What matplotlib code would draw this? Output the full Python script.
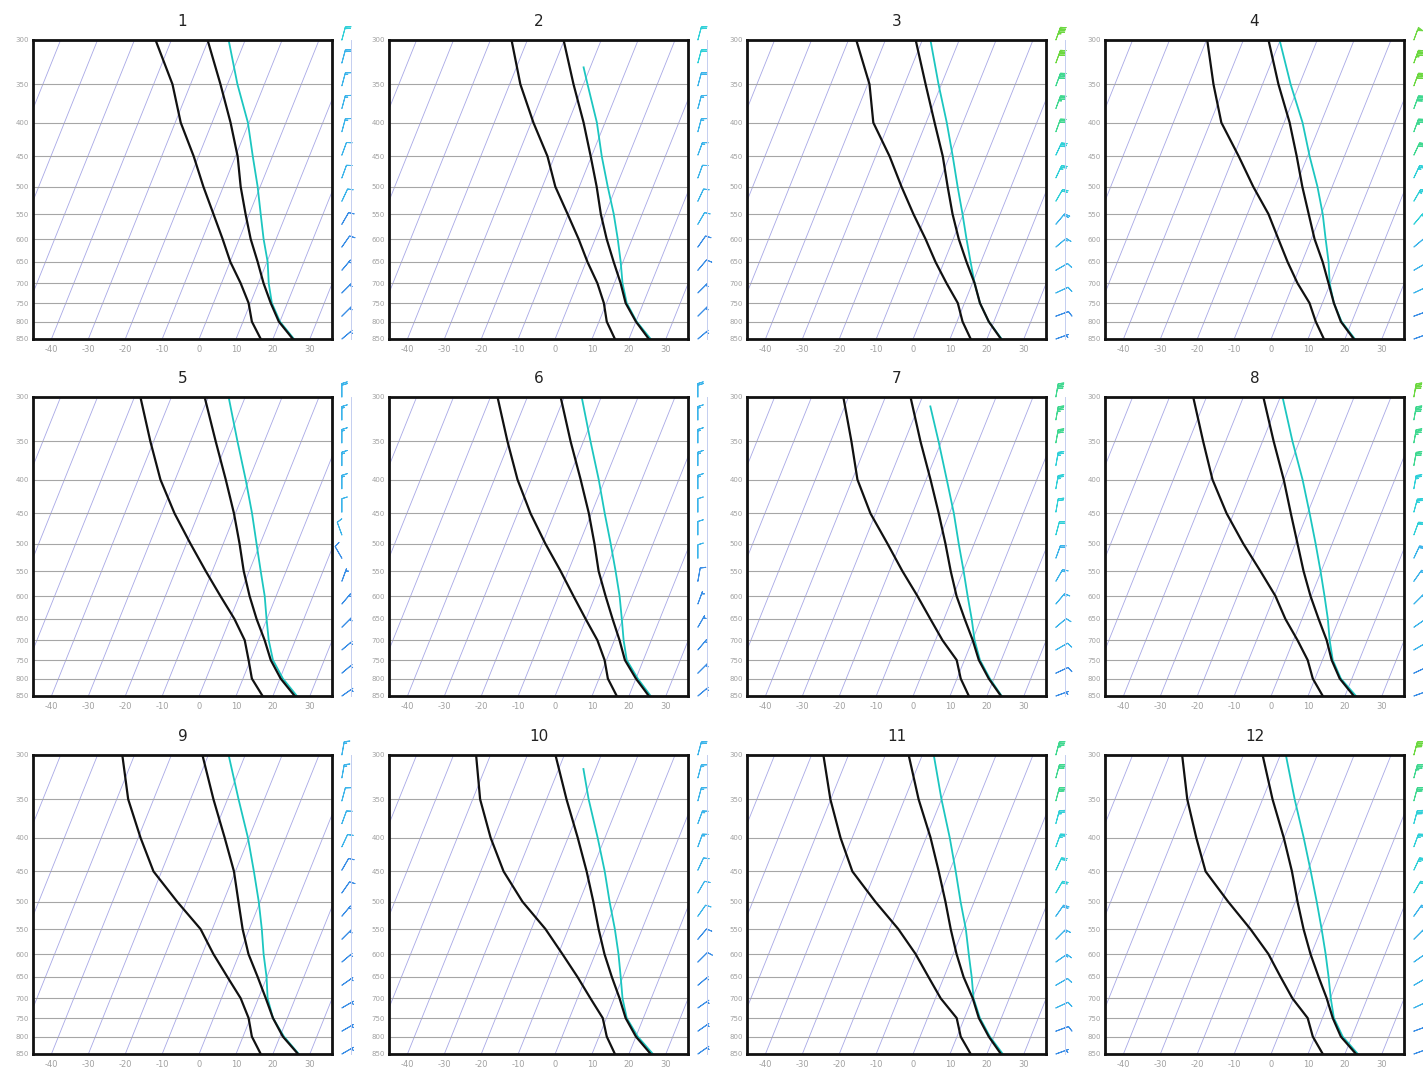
import numpy as np
import matplotlib
matplotlib.use('Agg')
import matplotlib.pyplot as plt
from matplotlib.ticker import NullLocator
from matplotlib.transforms import blended_transform_factory

# pressure levels (hPa) of the soundings
plevs = [300, 350, 400, 450, 500, 550, 600, 650, 700, 750, 800, 850]
titles = [str(i) for i in range(1, 13)]

# environmental temperature (C), one list per panel, top -> bottom
temp = [
    [-30.2, -21.9, -15.0, -9.4, -5.3, -1.0, 3.1, 7.5, 11.4, 15.5, 19.7, 25.4],
    [-30.2, -22.7, -15.8, -10.2, -5.3, -1.2, 3.1, 7.5, 11.7, 15.2, 20.0, 25.4],
    [-31.8, -24.3, -17.7, -11.8, -7.2, -2.9, 1.5, 6.1, 10.6, 14.2, 18.6, 23.8],
    [-33.2, -25.7, -18.5, -12.9, -8.1, -3.4, 0.9, 5.6, 9.5, 13.1, 17.0, 22.4],
    [-31.0, -23.2, -16.3, -10.4, -5.6, -1.5, 2.8, 7.2, 11.7, 15.5, 20.2, 25.9],
    [-31.0, -23.5, -16.6, -10.7, -5.9, -1.8, 2.8, 7.2, 11.4, 15.0, 20.0, 25.4],
    [-33.2, -25.7, -18.8, -12.9, -7.8, -3.4, 0.9, 5.6, 10.1, 13.9, 18.6, 23.8],
    [-34.6, -27.0, -20.1, -14.5, -9.4, -4.8, -0.2, 4.5, 9.0, 12.5, 16.7, 22.4],
    [-31.6, -23.8, -16.6, -10.4, -5.9, -1.8, 2.5, 7.5, 12.0, 16.1, 20.8, 26.8],
    [-32.4, -24.6, -17.4, -11.3, -6.2, -1.8, 2.5, 7.0, 11.4, 15.2, 20.0, 25.9],
    [-33.7, -26.2, -18.8, -12.9, -7.8, -3.4, 0.9, 5.3, 10.1, 13.9, 18.6, 23.8],
    [-34.8, -27.3, -20.1, -14.2, -9.4, -4.8, -0.2, 4.5, 9.0, 12.8, 17.0, 23.0],
]

# dew point (C)
dewp = [
    [-44.3, -34.9, -28.5, -21.3, -15.4, -9.7, -4.5, 0.1, 5.2, 9.5, 12.4, 16.7],
    [-44.3, -37.1, -29.4, -21.9, -16.5, -10.2, -4.5, 0.4, 5.4, 9.3, 12.1, 16.2],
    [-47.9, -39.5, -34.3, -26.2, -19.7, -13.5, -7.5, -2.3, 3.0, 8.2, 11.5, 15.6],
    [-49.8, -43.3, -37.0, -28.6, -21.4, -14.3, -8.9, -3.9, 1.1, 6.5, 10.2, 14.3],
    [-48.4, -40.9, -34.0, -26.5, -18.9, -11.8, -5.1, 1.2, 6.3, 9.5, 12.4, 17.2],
    [-48.1, -40.6, -33.7, -26.5, -19.2, -12.1, -5.9, -0.1, 5.4, 9.5, 12.4, 16.7],
    [-51.4, -44.4, -38.6, -31.4, -23.5, -16.5, -9.7, -3.7, 1.9, 7.9, 11.0, 15.1],
    [-53.6, -46.1, -39.4, -31.9, -24.1, -16.5, -9.7, -4.5, 1.1, 6.0, 9.4, 14.0],
    [-53.3, -46.9, -39.4, -32.2, -22.5, -13.2, -7.0, -0.7, 5.2, 9.5, 12.4, 16.7],
    [-53.9, -48.0, -41.0, -33.8, -25.4, -16.2, -8.9, -2.3, 3.5, 9.0, 12.1, 16.2],
    [-56.8, -50.1, -43.2, -36.3, -26.8, -17.6, -10.2, -4.2, 1.4, 7.9, 11.0, 15.6],
    [-56.6, -50.4, -43.8, -37.6, -28.2, -19.2, -11.6, -5.8, -0.3, 6.0, 9.4, 14.0],
]

# lifted parcel (C); first value is at parcel_top, the rest at plevs[1:]
parcel_top = [300, 330, 300, 300, 300, 300, 310, 300, 300, 315, 300, 300]
parcel = [
    [-24.5, -17.3, -10.3, -5.3, -0.7, 3.1, 6.6, 10.2, 12.8, 15.8, 20.0, 25.7],
    [-21.8, -18.9, -12.2, -7.2, -2.3, 2.3, 6.1, 9.4, 12.2, 15.5, 20.2, 25.9],
    [-27.8, -20.8, -14.4, -9.1, -4.5, -0.2, 3.6, 7.2, 10.6, 14.2, 18.6, 24.0],
    [-30.2, -22.4, -15.0, -9.4, -4.0, 0.4, 3.9, 7.2, 9.8, 13.1, 17.2, 22.7],
    [-24.5, -17.3, -10.9, -5.5, -1.0, 3.1, 6.9, 9.9, 12.8, 16.1, 20.8, 26.5],
    [-25.3, -18.1, -11.7, -6.4, -1.5, 2.8, 6.6, 9.7, 12.5, 15.5, 20.5, 25.9],
    [-26.8, -20.8, -14.4, -8.8, -4.2, 0.1, 3.9, 7.5, 10.6, 14.2, 18.9, 24.0],
    [-29.4, -21.9, -15.0, -9.4, -4.5, -0.2, 3.6, 7.0, 9.8, 12.8, 17.0, 23.0],
    [-24.5, -17.0, -10.3, -5.0, -0.4, 3.4, 6.6, 9.9, 12.5, 16.1, 21.1, 27.0],
    [-23.3, -18.6, -12.0, -6.4, -1.8, 2.6, 6.3, 9.4, 12.2, 15.5, 20.5, 26.5],
    [-26.9, -20.0, -13.6, -8.3, -3.7, 0.7, 4.2, 7.5, 10.3, 14.2, 18.9, 24.3],
    [-28.5, -21.3, -14.7, -9.1, -4.2, 0.1, 3.9, 7.2, 10.1, 13.1, 17.5, 23.5],
]

# wind barbs: levels, speed (kt) and direction (deg) per panel
wind_p = [300, 325, 352, 381, 413, 448, 485, 526, 570, 617, 669, 724, 785, 850]
wind_spd = [
    [20, 18, 16, 15, 14, 12, 11, 10, 9, 8, 7, 6, 5, 5],
    [22, 20, 18, 16, 15, 13, 12, 11, 10, 9, 8, 7, 6, 5],
    [45, 40, 38, 35, 32, 28, 25, 22, 18, 15, 12, 10, 8, 6],
    [50, 45, 42, 38, 35, 30, 27, 24, 20, 17, 14, 11, 9, 7],
    [18, 16, 15, 14, 13, 12, 10, 8, 6, 5, 5, 5, 6, 6],
    [18, 16, 15, 14, 13, 12, 11, 10, 8, 7, 6, 6, 6, 5],
    [38, 34, 30, 27, 24, 22, 20, 18, 16, 14, 12, 10, 8, 6],
    [42, 38, 34, 30, 27, 24, 21, 19, 17, 15, 13, 11, 9, 7],
    [15, 14, 12, 11, 10, 9, 8, 7, 6, 6, 5, 5, 5, 5],
    [18, 16, 15, 14, 13, 12, 11, 10, 9, 8, 7, 6, 6, 5],
    [35, 32, 30, 27, 24, 22, 20, 18, 16, 14, 12, 10, 8, 6],
    [40, 36, 32, 29, 26, 23, 21, 19, 17, 15, 13, 11, 9, 7],
]
wind_dir = [
    [15, 15, 15, 15, 15, 20, 20, 25, 30, 35, 40, 45, 45, 50],
    [15, 15, 15, 15, 15, 20, 20, 25, 30, 35, 40, 45, 45, 50],
    [20, 20, 20, 20, 20, 25, 25, 30, 40, 50, 60, 65, 70, 70],
    [20, 20, 20, 20, 20, 25, 25, 30, 40, 50, 60, 65, 70, 70],
    [0, 0, 0, 0, 0, 0, 340, 330, 20, 40, 45, 50, 50, 55],
    [0, 0, 0, 0, 0, 0, 0, 0, 10, 20, 30, 40, 45, 50],
    [10, 10, 10, 10, 10, 10, 15, 20, 30, 40, 50, 60, 65, 70],
    [10, 10, 10, 10, 10, 15, 20, 25, 35, 45, 55, 60, 65, 70],
    [10, 10, 15, 20, 25, 30, 35, 40, 45, 50, 55, 60, 60, 60],
    [15, 15, 15, 20, 20, 25, 30, 35, 40, 45, 50, 55, 55, 55],
    [15, 15, 15, 15, 20, 25, 30, 35, 45, 55, 60, 65, 70, 70],
    [15, 15, 15, 15, 20, 25, 30, 35, 45, 55, 60, 65, 70, 70],
]

iso_t = np.arange(-130, 50, 10)
xticks = [-40, -30, -20, -10, 0, 10, 20, 30]

SKEW = 31.2  # deg C of shift per unit of ln(p)


def skew_x(t, p):
    return np.asarray(t, dtype=float) + SKEW * np.log(850.0 / np.asarray(p, dtype=float))


def barb_color(s):
    if s < 10:
        return '#3a8ee6'
    if s < 20:
        return '#3cb4ea'
    if s < 30:
        return '#30d0d8'
    if s < 40:
        return '#40d890'
    return '#6cd840'


fig = plt.figure(figsize=(14.23, 10.77), dpi=100)
lefts = [33, 389, 747, 1105]
tops = [40, 397, 755]
W, H = 299, 299

for i in range(12):
    r, c = divmod(i, 4)
    ax = fig.add_axes([lefts[c] / 1423, 1 - (tops[r] + H) / 1077, W / 1423, H / 1077])
    ax.set_yscale('log')
    ax.set_ylim(850, 300)
    ax.set_xlim(-45, 36)

    pp = np.array([300, 850])
    for t in iso_t:
        ax.plot(skew_x(t, pp), pp, color='#a8a8e6', lw=0.6, zorder=1)
    for p in plevs[1:-1]:
        ax.axhline(p, color='#a6a6a6', lw=0.8, zorder=1)

    ax.plot(skew_x(dewp[i], plevs), plevs, color='#111111', lw=1.6, zorder=3)
    ax.plot(skew_x(temp[i], plevs), plevs, color='#111111', lw=1.6, zorder=3)
    ppar = [parcel_top[i]] + plevs[1:]
    ax.plot(skew_x(parcel[i], ppar), ppar, color='#1cc6c0', lw=1.3, zorder=2)

    ax.set_yticks(plevs)
    ax.set_yticklabels([str(p) for p in plevs])
    ax.yaxis.set_minor_locator(NullLocator())
    ax.set_xticks(xticks)
    ax.set_xticklabels([str(t) for t in xticks])
    ax.tick_params(axis='y', length=0, labelsize=5, labelcolor='#a0a0a0', pad=3)
    ax.tick_params(axis='x', length=0, labelsize=6, labelcolor='#a0a0a0', pad=4)
    for s in ax.spines.values():
        s.set_linewidth(2)
        s.set_color('#111111')
    ax.set_title(titles[i], fontsize=11, pad=10, color='#222222')

    # wind barbs on the right side
    trans = blended_transform_factory(ax.transAxes, ax.transData)
    spd = np.array(wind_spd[i], dtype=float)
    drc = np.radians(wind_dir[i])
    u = -spd * np.sin(drc)
    v = -spd * np.cos(drc)
    cols = [barb_color(s) for s in spd]
    ax.barbs(np.full(len(wind_p), 1.033), wind_p, u, v, transform=trans,
             clip_on=False, length=4.4, barbcolor=cols, flagcolor=cols,
             linewidth=0.7, sizes=dict(emptybarb=0.0))
    ax.plot([1.064, 1.064], [300, 850], transform=trans, clip_on=False,
            color='#c4cef0', lw=0.7)

fig.savefig('out.png', dpi=100)
